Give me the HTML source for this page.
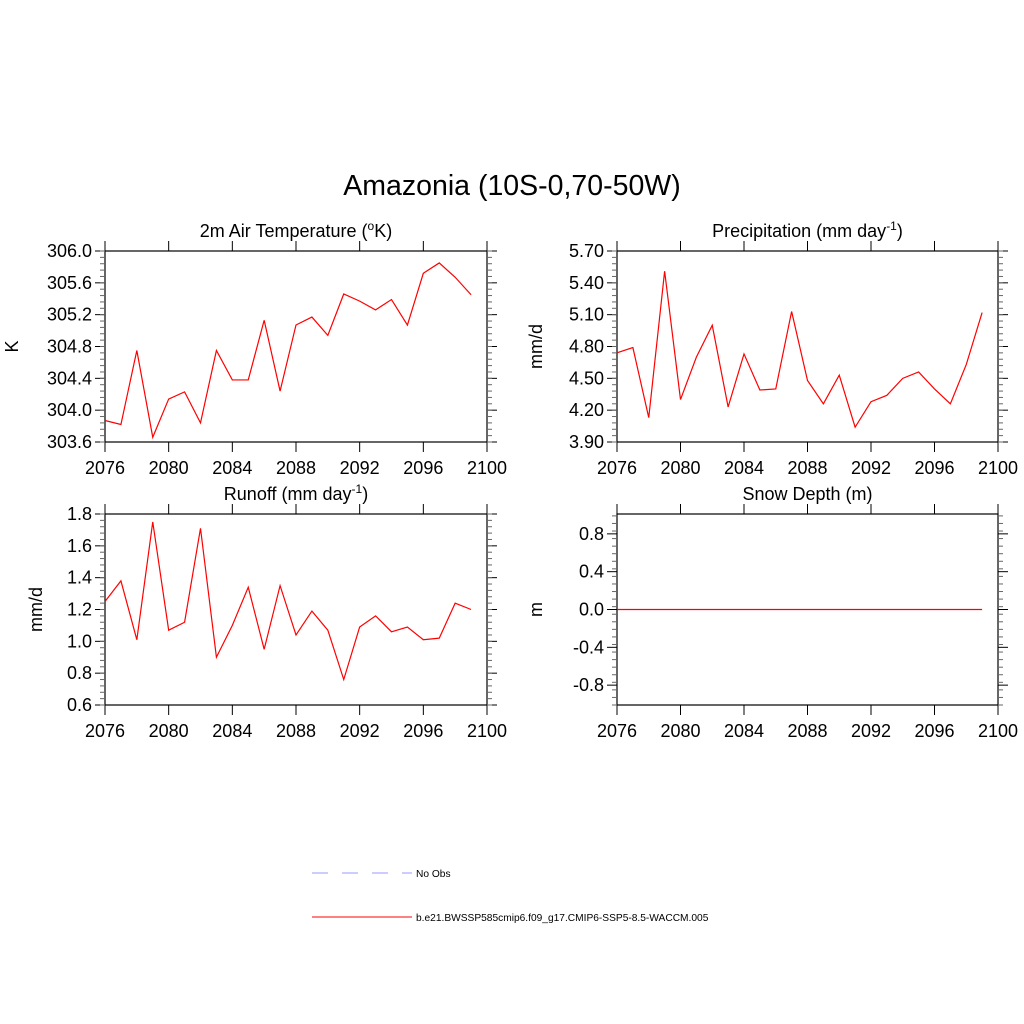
<!DOCTYPE html>
<html><head><meta charset="utf-8"><style>
body{margin:0;background:#fff;}
svg{display:block;font-family:"Liberation Sans",sans-serif;}
</style></head><body>
<svg id="chart" width="1024" height="1024">
<text x="512" y="195" font-size="28.5" text-anchor="middle">Amazonia (10S-0,70-50W)</text>
<g id="panels"></g>
<g>
<line x1="312" y1="873" x2="412" y2="873" stroke="#9999ff" stroke-width="1" stroke-dasharray="16,14"/>
<text x="416" y="877" font-size="10.2">No Obs</text>
<line x1="312" y1="917" x2="412" y2="917" stroke="#ff0000" stroke-width="1"/>
<text x="416" y="921" font-size="10.2">b.e21.BWSSP585cmip6.f09_g17.CMIP6-SSP5-8.5-WACCM.005</text>
</g>
</svg>
<script>
const years=[2076,2077,2078,2079,2080,2081,2082,2083,2084,2085,2086,2087,2088,2089,2090,2091,2092,2093,2094,2095,2096,2097,2098,2099];
const tempValues=[303.87,303.82,304.75,303.66,304.14,304.23,303.84,304.75,304.38,304.38,305.13,304.24,305.07,305.17,304.94,305.46,305.37,305.26,305.39,305.07,305.72,305.85,305.67,305.45];
const precValues=[4.74,4.79,4.13,5.51,4.30,4.70,5.00,4.23,4.73,4.39,4.40,5.13,4.48,4.26,4.53,4.04,4.28,4.34,4.50,4.56,4.40,4.26,4.63,5.12];
const runoffValues=[1.25,1.38,1.01,1.75,1.07,1.12,1.71,0.90,1.10,1.34,0.95,1.35,1.04,1.19,1.07,0.76,1.09,1.16,1.06,1.09,1.01,1.02,1.24,1.20];
const snowValues=[0,0,0,0,0,0,0,0,0,0,0,0,0,0,0,0,0,0,0,0,0,0,0,0];
const xTicks=[2076,2080,2084,2088,2092,2096,2100];
const tempTicks=["303.6","304.0","304.4","304.8","305.2","305.6","306.0"];
const precTicks=["3.90","4.20","4.50","4.80","5.10","5.40","5.70"];
const runoffTicks=["0.6","0.8","1.0","1.2","1.4","1.6","1.8"];
const snowTicks=["-0.8","-0.4","0.0","0.4","0.8"];

const NS="http://www.w3.org/2000/svg";
const root=document.getElementById('panels');
function mk(tag,attrs,parent){const e=document.createElementNS(NS,tag);for(const k in attrs)e.setAttribute(k,attrs[k]);parent.appendChild(e);return e;}

function panel(cfg){
  const g=mk('g',{},root);
  
  
  const {x0,x1,y0,y1,ymin,ymax}=cfg;
  const sx=v=>x0+(v-2076)/(2100-2076)*(x1-x0);
  const sy=v=>y1-(v-ymin)/(ymax-ymin)*(y1-y0);
  const box=mk('rect',{x:x0,y:y0,width:x1-x0,height:y1-y0,fill:'none',stroke:'#000','stroke-width':1.2},g);
  
  
  xTicks.forEach(t=>{
    const X=sx(t);
    mk('line',{x1:X,y1:y1,x2:X,y2:y1+10,stroke:'#000'},g);
    mk('line',{x1:X,y1:y0,x2:X,y2:y0-10,stroke:'#000'},g);
    const tx=mk('text',{x:X,y:y1+32,'font-size':18,'text-anchor':'middle'},g);
    tx.textContent=t;
    
    
  });
  cfg.ticks.forEach((lab,i)=>{
    const v=parseFloat(lab);const Y=sy(v);
    mk('line',{x1:x0,y1:Y,x2:x0-10,y2:Y,stroke:'#000'},g);
    mk('line',{x1:x1,y1:Y,x2:x1+10,y2:Y,stroke:'#000'},g);
    const tx=mk('text',{x:x0-13,y:Y+6,'font-size':18,'text-anchor':'end'},g);
    tx.textContent=lab;
    
    
  });
  const step=parseFloat(cfg.ticks[1])-parseFloat(cfg.ticks[0]);
  const ms=step/5;
  for(let v=ymin;v<=ymax+1e-9;v+=ms){
    const Y=sy(v);
    mk('line',{x1:x0,y1:Y,x2:x0-5,y2:Y,stroke:'#666'},g);
    mk('line',{x1:x1,y1:Y,x2:x1+5,y2:Y,stroke:'#666'},g);
  }
  const t=mk('text',{x:(x0+x1)/2,y:y0-14,'font-size':18,'text-anchor':'middle'},g);
  t.innerHTML=cfg.title;
  
  
  const yl=mk('text',{x:0,y:0,'font-size':18,'text-anchor':'middle',transform:`translate(${x0-85+cfg.ylOff},${(y0+y1)/2}) rotate(-90)`},g);
  yl.textContent=cfg.ylabel;
  
  
  const pts=years.map((yr,i)=>sx(yr)+','+sy(cfg.values[i])).join(' ');
  const pl=mk('polyline',{points:pts,fill:'none',stroke:'#ff0000','stroke-width':1.2},g);
  
  
}
panel({name:'temperature-panel',x0:105,x1:487,y0:251,y1:442,ymin:303.6,ymax:306.0,ticks:tempTicks,values:tempValues,ylabel:'K',ylOff:-2,
  title:'2m Air Temperature (<tspan baseline-shift="super" font-size="12">o</tspan>K)'});
panel({name:'precipitation-panel',x0:617,x1:998,y0:251,y1:442,ymin:3.9,ymax:5.7,ticks:precTicks,values:precValues,ylabel:'mm/d',ylOff:10,
  title:'Precipitation (mm day<tspan baseline-shift="super" font-size="12">-1</tspan>)'});
panel({name:'runoff-panel',x0:105,x1:487,y0:514,y1:705,ymin:0.6,ymax:1.8,ticks:runoffTicks,values:runoffValues,ylabel:'mm/d',ylOff:22,
  title:'Runoff (mm day<tspan baseline-shift="super" font-size="12">-1</tspan>)'});
panel({name:'snow-depth-panel',x0:617,x1:998,y0:514,y1:705,ymin:-1.01,ymax:1.01,ticks:snowTicks,values:snowValues,ylabel:'m',ylOff:10,
  title:'Snow Depth (m)'});
</script>
</body></html>
